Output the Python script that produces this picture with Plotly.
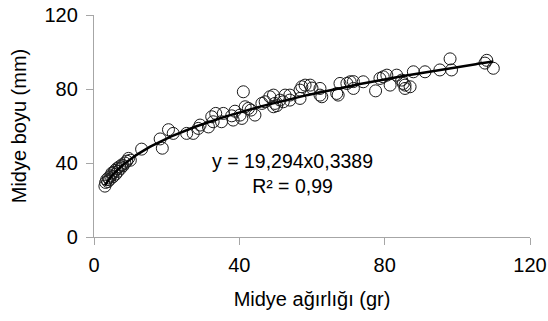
import plotly.graph_objects as go
import numpy as np

weight = [3.0, 3.2, 3.5, 3.8, 4.0, 4.3, 4.6, 4.9, 5.2, 5.5, 5.8, 6.0, 6.3, 6.6, 7.0, 7.3, 7.7, 8.0, 8.5, 9.0, 9.5, 10.0,
          13.1, 18.2, 18.8, 20.5, 21.8, 25.5, 27.3, 28.7, 29.2, 31.5,
          32.4, 32.8, 33.5, 35.1, 35.6, 37.9, 38.3, 38.8, 40.2, 40.7, 41.1, 41.6, 42.5, 43.2, 44.3,
          46.2, 47.1, 48.4, 49.4, 49.4, 49.8, 50.3, 51.2, 52.1, 52.6, 53.9, 53.9, 56.7, 56.7, 57.2,
          58.1, 59.5, 60.0, 62.2, 62.2, 62.7, 66.8, 67.2, 67.7, 69.6, 70.5, 71.4, 71.4, 74.1, 77.5,
          78.7, 79.6, 80.6, 81.5, 83.3, 84.7, 85.1, 85.6, 85.6, 87.0, 87.9, 91.1, 95.2, 98.0, 98.4,
          107.6, 108.1, 109.9]
length = [27.5, 29.5, 31.0, 30.0, 32.0, 31.0, 33.0, 34.5, 32.5, 35.0, 36.0, 34.0, 37.0, 35.5, 38.0, 37.0, 39.0, 38.5, 40.0, 41.0, 42.5, 41.5,
          47.5, 53.0, 48.0, 58.0, 56.0, 56.0, 56.0, 58.7, 60.5, 59.5,
          65.0, 62.3, 66.8, 62.3, 66.8, 65.5, 63.2, 68.0, 65.9, 64.1, 78.5, 70.4, 69.5, 68.6, 65.9,
          72.2, 73.1, 75.8, 76.7, 70.4, 72.2, 71.0, 74.0, 73.1, 76.7, 76.7, 74.0, 74.9, 79.4, 81.2,
          82.1, 82.1, 80.5, 80.3, 76.7, 75.8, 77.6, 76.7, 83.0, 83.0, 83.9, 80.3, 84.0, 83.9, 79.0,
          85.7, 86.6, 87.5, 82.1, 87.5, 84.8, 83.0, 82.1, 80.3, 81.2, 89.3, 89.3, 90.3, 96.3, 90.3,
          94.0, 95.5, 91.2]

coef_a = 19.294
coef_b = 0.3389
equation_text = "y = 19,294x0,3389<br>R² = 0,99"
x_ticks = [0, 40, 80, 120]
y_ticks = [0, 40, 80, 120]

trend_x = np.linspace(min(weight), max(weight), 200)
trend_y = coef_a * trend_x ** coef_b

FONT = "Liberation Sans, Arial, sans-serif"

fig = go.Figure()
fig.add_trace(go.Scatter(
    x=weight, y=length, mode="markers",
    marker=dict(symbol="circle-open", size=12, color="#1a1a1a", line=dict(width=1, color="#1a1a1a")),
    showlegend=False,
))
fig.add_trace(go.Scatter(
    x=trend_x, y=trend_y, mode="lines",
    line=dict(color="black", width=2.5),
    showlegend=False,
))

fig.add_annotation(
    x=54.5, y=34.5, xref="x", yref="y",
    text=equation_text, showarrow=False,
    font=dict(family=FONT, size=19.5, color="black"),
    align="center",
)

axis_common = dict(
    showgrid=False, zeroline=False,
    showline=True, linecolor="#a6a6a6", linewidth=1.3,
    ticks="outside", tickcolor="#a6a6a6", tickwidth=1.3, ticklen=7,
    tickfont=dict(family=FONT, size=20, color="black"),
    title_font=dict(family=FONT, size=20, color="black"),
)

fig.update_xaxes(range=[0, 120], tickvals=x_ticks, title_text="Midye ağırlığı (gr)",
                 title_standoff=16, ticklabelstandoff=3, **axis_common)
fig.update_yaxes(range=[0, 120], tickvals=y_ticks, title_text="Midye boyu (mm)",
                 title_standoff=12, ticklabelstandoff=4, **axis_common)

fig.update_layout(
    width=548, height=321,
    margin=dict(l=94, r=18, t=15, b=84, autoexpand=False),
    paper_bgcolor="white", plot_bgcolor="white",
    font=dict(family=FONT, color="black"),
)

fig.write_html("out.html", config={"displayModeBar": False},
               post_script="document.body.style.margin='0';document.body.style.padding='0';")
